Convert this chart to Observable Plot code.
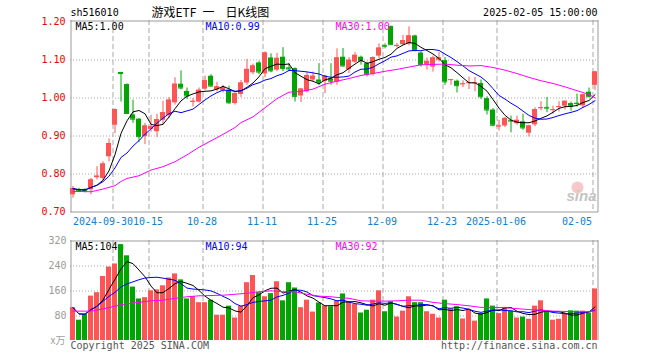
<!DOCTYPE html>
<html><head><meta charset="utf-8">
<script src="https://cdn.jsdelivr.net/npm/d3@7"></script>
<script src="https://cdn.jsdelivr.net/npm/@observablehq/plot@0.6"></script>
<style>
body{margin:0;background:#fff}
#chart{position:relative;width:660px;height:360px;overflow:hidden;background:#fff}
#chart svg{position:absolute;left:0;display:block;overflow:visible}
</style></head><body><div id="chart"></div>
<script>
// ---- data ----
const dates = ["2024-09-19","2024-09-20","2024-09-23","2024-09-24","2024-09-25","2024-09-26","2024-09-27","2024-09-30","2024-10-08","2024-10-09","2024-10-10","2024-10-11","2024-10-14","2024-10-15","2024-10-16","2024-10-17","2024-10-18","2024-10-21","2024-10-22","2024-10-23","2024-10-24","2024-10-25","2024-10-28","2024-10-29","2024-10-30","2024-10-31","2024-11-01","2024-11-04","2024-11-05","2024-11-06","2024-11-07","2024-11-08","2024-11-11","2024-11-12","2024-11-13","2024-11-14","2024-11-15","2024-11-18","2024-11-19","2024-11-20","2024-11-21","2024-11-22","2024-11-25","2024-11-26","2024-11-27","2024-11-28","2024-11-29","2024-12-02","2024-12-03","2024-12-04","2024-12-05","2024-12-06","2024-12-09","2024-12-10","2024-12-11","2024-12-12","2024-12-13","2024-12-16","2024-12-17","2024-12-18","2024-12-19","2024-12-20","2024-12-23","2024-12-24","2024-12-25","2024-12-26","2024-12-27","2024-12-30","2024-12-31","2025-01-02","2025-01-03","2025-01-06","2025-01-07","2025-01-08","2025-01-09","2025-01-10","2025-01-13","2025-01-14","2025-01-15","2025-01-16","2025-01-17","2025-01-20","2025-01-21","2025-01-22","2025-01-23","2025-01-24","2025-01-27","2025-02-05"];
const open  = [0.744,0.758,0.758,0.757,0.789,0.787,0.844,0.927,1.066,1.034,0.954,0.943,0.897,0.916,0.910,0.940,0.953,0.986,1.035,1.016,0.988,0.988,1.022,1.056,1.020,1.018,1.019,0.984,1.008,1.038,1.065,1.091,1.062,1.104,1.072,1.106,1.078,1.076,1.004,1.015,1.046,1.046,1.042,1.049,1.040,1.106,1.073,1.093,1.106,1.089,1.061,1.109,1.137,1.187,1.134,1.139,1.141,1.162,1.117,1.086,1.080,1.098,1.097,1.046,1.043,1.034,1.037,1.038,1.037,0.997,0.967,0.923,0.925,0.940,0.931,0.936,0.906,0.928,0.971,0.974,0.966,0.974,0.977,0.984,0.985,0.978,1.014,1.032];
const high  = [0.766,0.761,0.760,0.787,0.818,0.831,0.891,0.970,1.066,1.036,0.993,0.945,0.932,0.953,0.956,0.990,1.000,1.052,1.070,1.025,0.997,1.025,1.056,1.060,1.040,1.032,1.030,1.015,1.045,1.100,1.088,1.095,1.120,1.115,1.116,1.131,1.090,1.078,1.024,1.066,1.067,1.089,1.059,1.089,1.128,1.129,1.105,1.118,1.109,1.093,1.107,1.141,1.141,1.188,1.142,1.163,1.186,1.164,1.120,1.104,1.109,1.118,1.105,1.047,1.046,1.044,1.054,1.053,1.046,1.002,0.971,0.940,0.947,0.951,0.951,0.956,0.927,0.973,0.989,1.000,0.977,0.989,0.991,0.988,1.009,1.009,1.025,1.069];
const low   = [0.735,0.750,0.749,0.744,0.783,0.781,0.831,0.905,0.988,0.955,0.932,0.882,0.876,0.909,0.895,0.927,0.945,0.980,1.020,0.995,0.975,0.985,1.018,1.028,1.015,1.012,0.982,0.980,1.000,1.032,1.060,1.060,1.052,1.065,1.068,1.068,1.068,0.988,0.987,1.012,1.041,1.032,1.010,1.032,1.032,1.080,1.063,1.089,1.085,1.054,1.056,1.102,1.128,1.137,1.131,1.137,1.136,1.120,1.080,1.072,1.067,1.093,1.032,1.032,1.012,1.026,1.021,1.015,0.995,0.954,0.923,0.912,0.921,0.907,0.927,0.914,0.896,0.923,0.965,0.960,0.956,0.962,0.967,0.964,0.975,0.971,1.000,1.019];
const close = [0.760,0.755,0.755,0.783,0.793,0.825,0.879,0.968,1.063,0.958,0.943,0.897,0.925,0.923,0.942,0.960,0.993,1.035,1.025,1.004,0.990,1.019,1.044,1.030,1.028,1.026,0.986,1.010,1.038,1.074,1.083,1.067,1.117,1.070,1.103,1.076,1.075,1.003,1.022,1.058,1.056,1.040,1.056,1.043,1.104,1.083,1.098,1.111,1.096,1.061,1.105,1.130,1.135,1.139,1.137,1.150,1.162,1.124,1.087,1.095,1.104,1.104,1.041,1.047,1.031,1.036,1.039,1.039,1.002,0.967,0.927,0.925,0.945,0.938,0.940,0.920,0.925,0.968,0.973,0.972,0.968,0.976,0.990,0.977,0.984,1.007,1.002,1.067];
const volume = [105,65,83,142,153,205,235,245,307,271,171,133,137,159,162,175,200,213,194,133,140,121,121,129,81,81,110,72,110,185,208,153,140,150,188,127,185,168,105,129,91,120,110,108,127,149,124,115,88,97,129,159,92,124,75,94,140,121,121,92,84,72,129,102,108,69,97,62,86,133,110,86,106,94,72,75,68,110,127,92,65,68,86,95,94,94,88,165];
// MA30 lines (index of trading day, value)
const ma30Day = [0,3,5,7,8,9,11,13,15,17,19,21,23,25,27,28,30,32,34,36,38,40,42,44,46,48,50,52,54,56,58,62,64,66,68,70,72,74,76,78,80,82,84,86,87];
const ma30Price = [0.753,0.752,0.759,0.768,0.779,0.787,0.794,0.809,0.818,0.831,0.849,0.869,0.886,0.903,0.921,0.934,0.949,0.973,0.997,1.014,1.016,1.022,1.035,1.043,1.050,1.058,1.063,1.069,1.074,1.080,1.086,1.088,1.085,1.083,1.084,1.079,1.072,1.063,1.053,1.044,1.037,1.028,1.018,1.008,0.999];
const ma30VolDay = [0,3,5,7,9,11,13,15,17,19,21,23,25,27,29,31,33,35,37,39,41,43,44,46,48,50,52,54,56,58,60,62,64,66,68,70,72,74,76,78,80,82,84,86,87];
const ma30Vol = [94,94,101,110,118,122,127,129,135,140,143,144,145,148,151,156,159,156,156,148,142,140,138,135,127,126,126,127,129,129,122,118,115,111,106,106,105,102,99,97,94,93,92,92,95];
const priceTicks = [0.70,0.80,0.90,1.00,1.10,1.20];
const volTicks = [80,160,240,320];
const tickDays = ["2024-09-30","2024-10-15","2024-10-28","2024-11-11","2024-11-25","2024-12-09","2024-12-23","2025-01-06","2025-02-05"];
const tickLabels = ["2024-09-30","10-15","10-28","11-11","11-25","12-09","12-23","2025-01-06","02-05"];
const symbol = "sh516010";
const titleParts = ["游戏ETF", "一", "日K线图"];
const stamp = "2025-02-05 15:00:00";
const priceLegend = ["MA5:1.00","MA10:0.99","MA30:1.00"];
const volLegend = ["MA5:104","MA10:94","MA30:92"];

// ---- styling ----
const RED = "#ff5454", GREEN = "#00a600", GRID = "#a8a8a8", FRAME = "#9a9a9a";
const BLUE = "#0000ff", MAG = "#ff00ff", TICKBLUE = "#1080d0";
const MONO = "DejaVu Sans Mono, monospace";
const CJK = "Noto Sans CJK SC";
const N = dates.length;
const W = 5/6, C = 2.5/6, G = 0.5/6;

const rows = dates.map((d, i) => ({i, x0: i, x1: i + W, xc: i + C, o: open[i], h: high[i], l: low[i], c: close[i], v: volume[i], col: close[i] >= open[i] ? RED : GREEN}));
const tickIdx = tickDays.map(d => dates.indexOf(d));

const common = {
  width: 660, marginLeft: 70, marginRight: 62,
  x: {domain: [0, N], axis: null},
  color: {type: "identity"},
  style: {fontFamily: MONO, fontSize: "10px", background: "transparent", overflow: "visible"}
};

const legendMarks = (labels, dy, pick) => [
  Plot.text(labels, {text: d => d, frameAnchor: "top-left", dx: 5, dy, textAnchor: "start", lineAnchor: "middle", fill: "#000", filter: (d, j) => j === 0}),
  Plot.text(labels, {text: d => d, frameAnchor: "top-left", dx: 135, dy, textAnchor: "start", lineAnchor: "middle", fill: BLUE, filter: (d, j) => j === 1}),
  Plot.text(labels, {text: d => d, frameAnchor: "top-left", dx: 265, dy, textAnchor: "start", lineAnchor: "middle", fill: MAG, filter: (d, j) => j === 2})
];

const price = Plot.plot({
  ...common,
  height: 232, marginTop: 21, marginBottom: 21,
  y: {domain: [0.70, 1.20], axis: null},
  marks: [
    Plot.ruleY(priceTicks.slice(1, 5), {y: d => d, stroke: GRID, strokeDasharray: "1,2", dy: 0.5}),
    Plot.ruleX(tickIdx, {x: d => d + G, stroke: GRID, strokeDasharray: "5,3", insetTop: -1}),
    Plot.ruleX([0], {x: d => d + G, stroke: FRAME, insetTop: -1, insetBottom: -1}),
    Plot.ruleX([N], {x: d => d, dx: -0.5, stroke: FRAME, insetTop: -1, insetBottom: -1}),
    Plot.ruleY([1.20], {y: d => d, dy: -0.5, stroke: FRAME}),
    Plot.ruleY([0.70], {y: d => d, dy: 0.5, stroke: FRAME}),
    // watermark
    Plot.dot([0], {frameAnchor: "bottom-right", dx: -21, dy: -24, r: 6, fill: "#f3b0b0", fillOpacity: 0.7, stroke: null}),
    Plot.text(["sina"], {text: d => d, frameAnchor: "bottom-right", dx: -2, dy: -11, textAnchor: "end", fontFamily: "Liberation Sans", fontSize: 15, fontWeight: "bold", fontStyle: "italic", fill: "#c4c4c4"}),
    // candles
    Plot.ruleX(rows, {x: "xc", y1: "l", y2: "h", stroke: "col"}),
    Plot.rect(rows, {x1: "x0", x2: "x1", y1: d => Math.min(d.o, d.c), y2: d => Math.max(d.o, d.c), fill: "col"}),
    Plot.ruleY(rows, {y: "c", x1: "x0", x2: "x1", stroke: "col"}),
    // moving averages
    Plot.lineY(rows, Plot.windowY({k: 5, anchor: "end"}, {x: "xc", y: "c", stroke: "#000", strokeWidth: 1})),
    Plot.lineY(rows, Plot.windowY({k: 10, anchor: "end"}, {x: "xc", y: "c", stroke: BLUE, strokeWidth: 1})),
    Plot.line(ma30Day, {x: d => d + C, y: (d, j) => ma30Price[j], stroke: MAG, strokeWidth: 1}),
    // axis labels
    Plot.text(priceTicks, {y: d => d, text: d => d.toFixed(2), frameAnchor: "left", dx: -5, textAnchor: "end", fill: "#f00000", lineAnchor: "middle"}),
    Plot.text(tickIdx.slice(0, 1), {x: d => d + G, text: () => tickLabels[0], frameAnchor: "bottom", dy: 10.7, dx: -10, fill: TICKBLUE, lineAnchor: "middle"}),
    Plot.text(tickIdx.slice(1, -1), {x: d => d + G, text: (d, j) => tickLabels[j + 1], frameAnchor: "bottom", dy: 10.7, dx: -1, fill: TICKBLUE, lineAnchor: "middle"}),
    Plot.text(tickIdx.slice(-1), {x: d => d + G, text: () => tickLabels[tickLabels.length - 1], frameAnchor: "bottom", dy: 10.7, dx: -1, textAnchor: "end", fill: TICKBLUE, lineAnchor: "middle"}),
    // header
    Plot.text([symbol], {text: d => d, frameAnchor: "top-left", dy: -8.3, textAnchor: "start", lineAnchor: "middle", fill: "#000"}),
    Plot.text(titleParts.slice(0, 1), {text: d => d, frameAnchor: "top-left", dx: 81, dy: -8.5, textAnchor: "start", lineAnchor: "middle", fill: "#000", fontFamily: CJK, fontSize: 12}),
    Plot.text(titleParts.slice(1, 2), {text: d => d, frameAnchor: "top-left", dx: 132, dy: -8.5, textAnchor: "start", lineAnchor: "middle", fill: "#000", fontFamily: CJK, fontSize: 12}),
    Plot.text(titleParts.slice(2), {text: d => d, frameAnchor: "top-left", dx: 155, dy: -8.5, textAnchor: "start", lineAnchor: "middle", fill: "#000", fontFamily: CJK, fontSize: 12}),
    Plot.text([stamp], {text: d => d, frameAnchor: "top-right", dx: -1, dy: -8.3, textAnchor: "end", lineAnchor: "middle", fill: "#000"}),
    ...legendMarks(priceLegend, 5.5)
  ]
});

const vol = Plot.plot({
  ...common,
  height: 128, marginTop: 8, marginBottom: 20,
  y: {domain: [0, 320], axis: null},
  marks: [
    Plot.ruleY(volTicks.slice(0, 3), {y: d => d, stroke: GRID, strokeDasharray: "1,2", dy: 0.5}),
    Plot.ruleX(tickIdx, {x: d => d + G, stroke: GRID, strokeDasharray: "5,3"}),
    Plot.ruleX([0], {x: d => d + G, stroke: FRAME}),
    Plot.ruleX([N], {x: d => d, dx: -0.5, stroke: FRAME}),
    Plot.ruleY([320], {y: d => d, dy: 0.5, stroke: FRAME}),
    Plot.rect(rows, {x1: "x0", x2: "x1", y1: 0, y2: "v", fill: "col"}),
    Plot.lineY(rows, Plot.windowY({k: 5, anchor: "end"}, {x: "xc", y: "v", stroke: "#000", strokeWidth: 1})),
    Plot.lineY(rows, Plot.windowY({k: 10, anchor: "end"}, {x: "xc", y: "v", stroke: BLUE, strokeWidth: 1})),
    Plot.line(ma30VolDay, {x: d => d + C, y: (d, j) => ma30Vol[j], stroke: MAG, strokeWidth: 1}),
    Plot.text(volTicks, {y: d => d, text: d => String(d), frameAnchor: "left", dx: -4, textAnchor: "end", lineAnchor: "middle", fill: "#9a9a9a"}),
    Plot.text(["x万"], {y: 0, text: d => d, frameAnchor: "left", dx: -5, textAnchor: "end", lineAnchor: "middle", fill: "#a0a0a0", fontFamily: CJK, fontSize: 10}),
    ...legendMarks(volLegend, 6),
    Plot.dot([0], {frameAnchor: "top-left", dx: 50.5, dy: 7, symbol: "square", r: 2.6, fill: GREEN, stroke: null}),
    Plot.text(["Copyright 2025 SINA.COM"], {text: d => d, frameAnchor: "bottom-left", dy: 5.7, textAnchor: "start", lineAnchor: "middle", fill: "#555"}),
    Plot.text(["http://finance.sina.com.cn"], {text: d => d, frameAnchor: "bottom-right", dy: 5.7, dx: -1, textAnchor: "end", lineAnchor: "middle", fill: "#555"})
  ]
});

const host = document.getElementById("chart");
price.style.top = "0px";
vol.style.top = "232px";
host.appendChild(price);
host.appendChild(vol);
</script></body></html>
